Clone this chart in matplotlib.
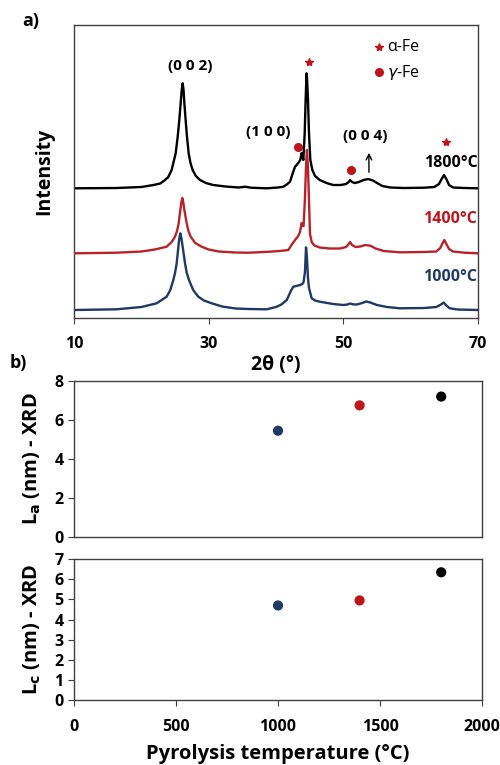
import matplotlib
matplotlib.use("Agg")
import matplotlib.pyplot as plt

plt.rcParams['font.family'] = ['Open Sans', 'DejaVu Sans']

# XRD patterns as (2theta in deg, intensity in a.u., already stacked)
xrd_1800 = [(10.0, 129.7), (16.3, 130.0), (20.0, 131.0), (21.78, 133.0), (22.8, 134.5), (23.51, 138.0),
            (24.0, 141.0), (24.5, 148.0), (25.1, 164.7), (25.4, 181.3), (25.64, 198.0), (25.84, 214.7),
            (26.0, 228.0), (26.14, 234.7), (26.27, 228.0), (26.39, 214.7), (26.58, 198.0), (26.78, 181.3),
            (27.03, 164.7), (27.3, 155.0), (27.62, 148.0), (28.1, 142.0), (28.71, 138.0), (29.6, 135.0),
            (30.69, 133.0), (32.5, 131.5), (34.5, 130.5), (35.4, 131.3), (36.3, 130.3), (38.6, 129.7),
            (40.3, 130.5), (41.09, 131.3), (41.6, 133.5), (42.08, 136.3), (42.48, 144.7), (42.83, 151.3),
            (43.31, 155.0), (43.6, 158.0), (43.81, 165.0), (43.95, 161.0), (44.06, 158.0), (44.26, 184.7),
            (44.40, 218.0), (44.50, 238.0), (44.55, 244.7), (44.62, 238.0), (44.75, 218.0), (44.90, 184.7),
            (45.10, 158.0), (45.4, 148.0), (45.8, 142.0), (46.5, 138.0), (47.5, 135.0), (48.5, 133.0),
            (49.6, 133.0), (50.4, 134.0), (50.8, 136.0), (51.0, 138.0), (51.3, 136.0), (51.7, 135.0),
            (52.3, 136.0), (53.0, 138.0), (53.7, 139.0), (54.4, 137.5), (55.0, 135.0), (55.8, 132.0),
            (57.0, 130.5), (59.0, 130.0), (62.0, 130.3), (63.5, 131.0), (64.2, 134.0), (64.6, 139.0),
            (64.95, 143.0), (65.3, 139.0), (65.7, 133.0), (66.3, 130.5), (68.0, 130.0), (70.0, 129.7)]

xrd_1400 = [(10.0, 64.7), (16.3, 65.3), (20.0, 66.5), (22.0, 68.5), (23.76, 71.3), (24.5, 76.0),
            (25.0, 81.3), (25.3, 87.0), (25.55, 94.7), (25.79, 108.0), (25.95, 116.0), (26.09, 120.0),
            (26.22, 116.0), (26.39, 108.0), (26.74, 94.7), (27.0, 87.0), (27.33, 81.3), (28.0, 75.0),
            (28.96, 71.3), (30.0, 68.5), (31.5, 66.5), (34.0, 65.5), (36.0, 65.3), (39.0, 66.3),
            (40.5, 67.0), (41.83, 68.0), (42.4, 74.0), (42.83, 78.0), (43.3, 82.0), (43.56, 86.0),
            (43.81, 95.0), (43.98, 92.0), (44.1, 92.0), (44.3, 120.0), (44.45, 150.0), (44.6, 168.0),
            (44.75, 150.0), (44.9, 118.0), (45.05, 84.0), (45.3, 76.0), (45.7, 72.5), (46.5, 70.5),
            (48.0, 69.5), (49.5, 69.5), (50.4, 71.0), (50.8, 74.0), (51.0, 76.0), (51.3, 73.0),
            (51.8, 71.0), (52.5, 71.5), (53.3, 73.0), (54.0, 72.3), (54.8, 69.5), (56.0, 67.0),
            (58.4, 65.7), (62.0, 66.0), (63.8, 66.5), (64.4, 70.0), (64.75, 75.0), (65.0, 78.0),
            (65.3, 74.0), (65.7, 69.0), (66.3, 66.5), (68.0, 65.3), (70.0, 64.7)]

xrd_1000 = [(10.0, 8.0), (16.3, 8.7), (20.0, 11.0), (22.28, 14.7), (23.76, 21.3), (24.3, 28.0),
            (24.75, 38.0), (25.0, 45.0), (25.25, 54.7), (25.50, 71.3), (25.65, 80.0), (25.79, 84.7),
            (25.95, 80.0), (26.14, 71.3), (26.49, 54.7), (26.75, 45.0), (27.08, 38.0), (27.7, 28.0),
            (28.46, 21.3), (29.3, 17.5), (30.45, 14.7), (32.0, 11.5), (34.0, 9.5), (36.0, 9.0),
            (38.6, 8.7), (40.0, 11.0), (40.8, 13.5), (41.6, 18.0), (42.2, 27.0), (42.57, 31.3),
            (43.0, 32.0), (43.56, 33.0), (43.9, 34.0), (44.1, 36.0), (44.3, 46.0), (44.46, 70.7),
            (44.6, 60.0), (44.75, 40.0), (44.9, 30.0), (45.3, 19.7), (45.8, 17.5), (46.5, 16.3),
            (48.5, 14.0), (50.0, 13.0), (50.6, 13.5), (51.0, 14.5), (51.4, 13.7), (52.0, 13.5),
            (52.8, 15.0), (53.4, 16.5), (54.0, 15.5), (55.0, 13.0), (56.5, 11.0), (58.4, 9.7),
            (62.0, 10.0), (63.8, 11.0), (64.5, 13.5), (64.9, 15.5), (65.3, 12.5), (65.8, 9.7),
            (67.0, 8.5), (70.0, 8.0)]

# crystallite sizes from XRD
temps = [1000, 1400, 1800]
La = [5.45, 6.75, 7.2]
Lc = [4.7, 4.95, 6.35]

navy = '#1f3864'
red = '#c0141c'
curve_red = '#b8232b'
colors = [navy, red, 'black']
spine_col = '#404040'

fig = plt.figure(figsize=(5.0, 7.65), dpi=100)
ax1 = fig.add_axes([0.148, 0.5843, 0.808, 0.383])
ax2 = fig.add_axes([0.148, 0.298, 0.816, 0.204])
ax3 = fig.add_axes([0.148, 0.085, 0.816, 0.184])

# ---- a) XRD ----
for data, col, z in [(xrd_1800, 'black', 2), (xrd_1400, curve_red, 3), (xrd_1000, navy, 2)]:
    tt, inten = zip(*data)
    ax1.plot(tt, inten, color=col, lw=1.7, zorder=z)
ax1.set_xlim(10, 70)
ax1.set_ylim(0, 293)
ax1.set_xticks([10, 30, 50, 70])
ax1.set_yticks([])
ax1.tick_params(axis='x', direction='out', length=4, pad=9, labelsize=11.5, colors=spine_col,
                labelcolor='black')
for lab in ax1.get_xticklabels():
    lab.set_fontweight('bold')
ax1.set_xlabel('2θ (°)', fontsize=14, fontweight='bold', labelpad=2)
ax1.set_ylabel('Intensity', fontsize=14, fontweight='bold', labelpad=14)

ax1.text(27.2, 252, '(0 0 2)', ha='center', va='center', fontsize=11, fontweight='bold')
ax1.text(38.8, 186, '(1 0 0)', ha='center', va='center', fontsize=11, fontweight='bold')
ax1.text(53.2, 182, '(0 0 4)', ha='center', va='center', fontsize=11, fontweight='bold')
ax1.annotate('', xy=(53.8, 168), xytext=(53.8, 143),
             arrowprops=dict(arrowstyle='->', color='black', lw=1))

ax1.plot([44.9, 65.25], [256, 176], ls='none', marker='*', ms=6, color=red)
ax1.plot([43.27, 51.1], [171, 148], ls='none', marker='o', ms=5.5, color=red)
ax1.plot([55.3], [271], marker='*', ms=6, color=red)
ax1.plot([55.3], [246], marker='o', ms=5.5, color=red)
ax1.text(56.5, 271, 'α-Fe', ha='left', va='center', fontsize=11.5)
ax1.text(56.5, 246, '$\\gamma$-Fe', ha='left', va='center', fontsize=11.5)

ax1.text(69.9, 155, '1800°C', ha='right', va='center', fontsize=11.5, fontweight='bold', color='black')
ax1.text(69.9, 99, '1400°C', ha='right', va='center', fontsize=11.5, fontweight='bold', color=red)
ax1.text(69.9, 41, '1000°C', ha='right', va='center', fontsize=11.5, fontweight='bold', color=navy)

fig.text(0.045, 0.972, 'a)', fontsize=13, fontweight='bold', ha='left', va='center')
fig.text(0.02, 0.525, 'b)', fontsize=13, fontweight='bold', ha='left', va='center')

# ---- b) La and Lc ----
ax2.scatter(temps, La, c=colors, s=40, zorder=3)
ax2.set_xlim(0, 2000)
ax2.set_ylim(0, 8)
ax2.set_yticks([0, 2, 4, 6, 8])
ax2.set_xticks([])
ax2.set_ylabel('L$_{\\mathbf{a}}$ (nm) - XRD', fontsize=14.5, fontweight='bold', labelpad=8)

ax3.scatter(temps, Lc, c=colors, s=40, zorder=3)
ax3.set_xlim(0, 2000)
ax3.set_ylim(0, 7)
ax3.set_yticks(range(0, 8))
ax3.set_xticks([0, 500, 1000, 1500, 2000])
ax3.set_ylabel('L$_{\\mathbf{c}}$ (nm) - XRD', fontsize=14.5, fontweight='bold', labelpad=8)
ax3.set_xlabel('Pyrolysis temperature (°C)', fontsize=14.5, fontweight='bold', labelpad=6)

for ax in (ax2, ax3):
    ax.tick_params(direction='out', length=4, labelsize=11.5, colors=spine_col, labelcolor='black')
    ax.tick_params(axis='x', pad=10)
    for lab in ax.get_xticklabels() + ax.get_yticklabels():
        lab.set_fontweight('bold')

for ax in (ax1, ax2, ax3):
    for sp in ax.spines.values():
        sp.set_color(spine_col)
        sp.set_linewidth(1.0)

fig.savefig('out.png', dpi=100)
